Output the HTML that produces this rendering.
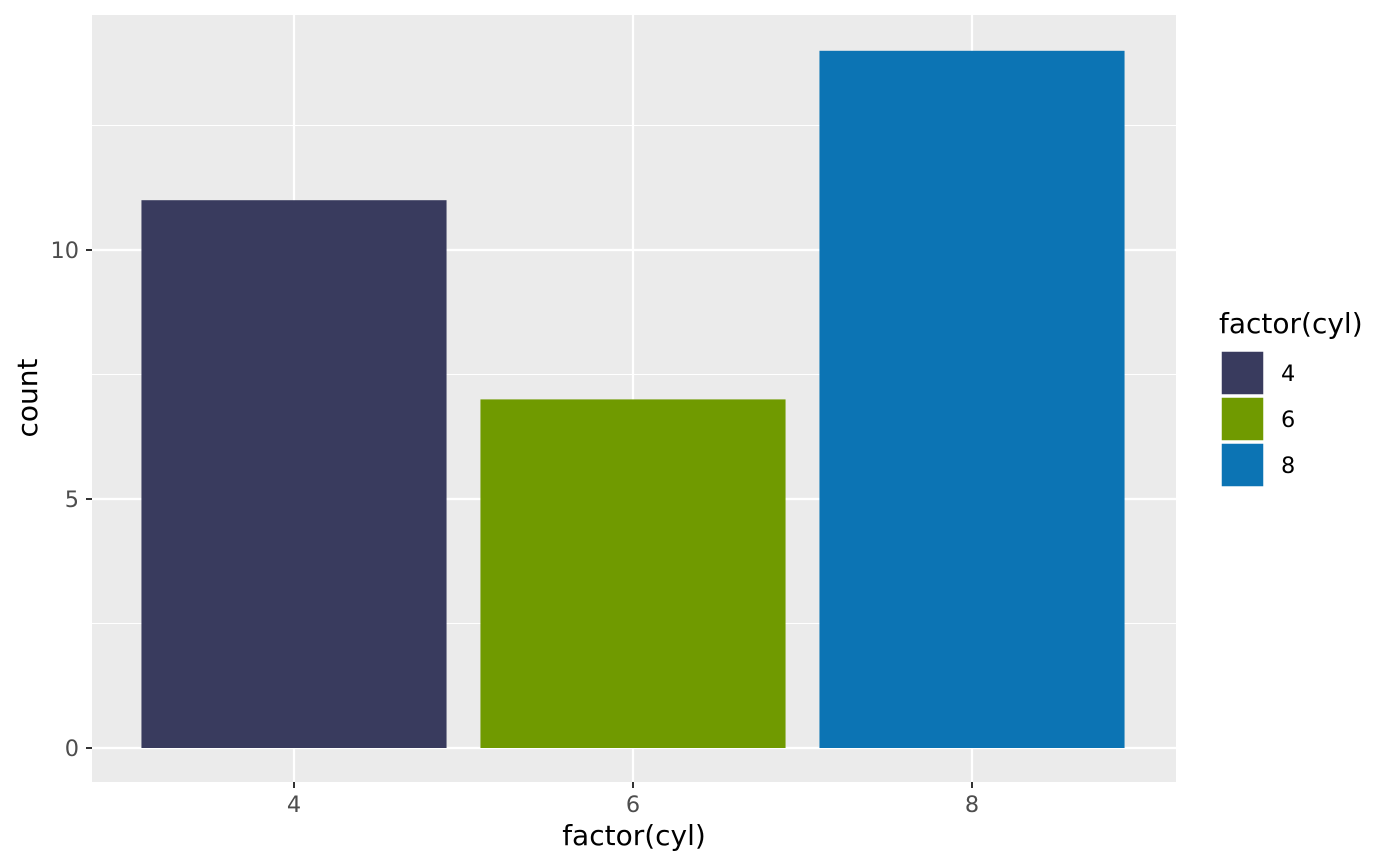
<!DOCTYPE html>
<html><head><meta charset="utf-8"><style>body{margin:0;background:#fff}svg{display:block;font-family:"DejaVu Sans","Liberation Sans",sans-serif}</style></head>
<body>
<svg id="chart" width="1400" height="866" viewBox="0 0 1400 866">
<rect x="92" y="15" width="1084" height="767" fill="#EBEBEB"/>
<g id="grid"></g><g id="bars"></g><g id="axes"></g>
<text x="634" y="845" font-size="28" text-anchor="middle" fill="#000">factor(cyl)</text>
<text transform="translate(37,398) rotate(-90)" font-size="28" text-anchor="middle" fill="#000">count</text>
<g id="legend">
<text x="1219" y="333" font-size="28" fill="#000">factor(cyl)</text>
</g>
</svg>
<script>
const categories=["4","6","8"];
const counts=[11,7,14];
const colors=["#393B5E","#709A00","#0C74B4"];
const yTicks=[0,5,10];
const yMinor=[2.5,7.5,12.5];
const ns="http://www.w3.org/2000/svg";
const X0=92,X1=1176,Y0=15,Y1=782;
const y=v=>748-v*49.8;
const step=339,xc=i=>294+i*step;
function mk(t,a,p){const e=document.createElementNS(ns,t);for(const k in a)e.setAttribute(k,a[k]);p.appendChild(e);return e;}
const grid=document.getElementById('grid'),bars=document.getElementById('bars'),axes=document.getElementById('axes'),leg=document.getElementById('legend');
yMinor.forEach(v=>{const l=mk('line',{x1:X0,x2:X1,y1:y(v),y2:y(v),stroke:'#fff','stroke-width':1.1},grid);

});
yTicks.forEach(v=>{const l=mk('line',{x1:X0,x2:X1,y1:y(v),y2:y(v),stroke:'#fff','stroke-width':2.2},grid);


const t=mk('line',{x1:86,x2:92,y1:y(v),y2:y(v),stroke:'#333','stroke-width':2},axes);


const tx=mk('text',{x:79,y:y(v)+8,'font-size':22.4,'text-anchor':'end',fill:'#4D4D4D'},axes);tx.textContent=v;

});
categories.forEach((c,i)=>{const l=mk('line',{x1:xc(i),x2:xc(i),y1:Y0,y2:Y1,stroke:'#fff','stroke-width':2.2},grid);


const w=step*0.9;
const b=mk('rect',{x:xc(i)-w/2,y:y(counts[i]),width:w,height:y(0)-y(counts[i]),fill:colors[i]},bars);


const t=mk('line',{x1:xc(i),x2:xc(i),y1:782,y2:788,stroke:'#333','stroke-width':2},axes);


const tx=mk('text',{x:xc(i),y:812,'font-size':22.4,'text-anchor':'middle',fill:'#4D4D4D'},axes);tx.textContent=c;


const ky=351+i*46;
const k=mk('rect',{x:1221,y:ky,width:43,height:44,fill:colors[i],stroke:'#fff','stroke-width':1.5},leg);


const lt=mk('text',{x:1281,y:ky+30,'font-size':22.4,fill:'#000'},leg);lt.textContent=c;

});
</script>
</body></html>
